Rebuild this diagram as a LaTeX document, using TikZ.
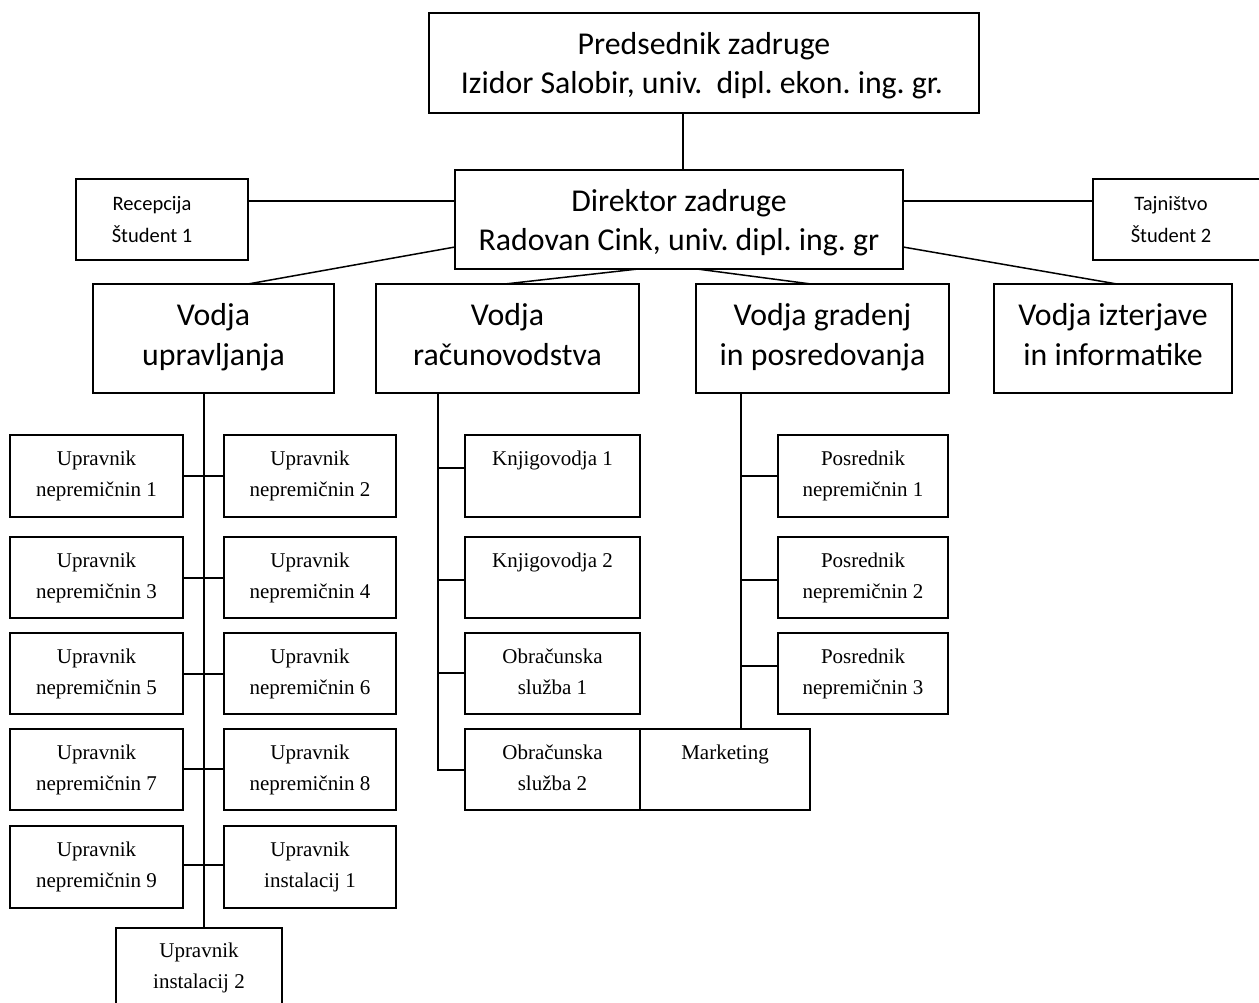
\documentclass[tikz,border=0pt]{standalone}
\usepackage{fontspec}
\setmainfont{Liberation Serif}
\newfontfamily\calibfont{Carlito}
\frenchspacing
\newcommand\orgbox[5]{\node[orgrect, minimum width={(#4-#2)*1pt}, minimum height={(#5-#3)*1pt}] (#1) at (#2,#3) {};}
\begin{document}
\begin{tikzpicture}[x=1pt,y=-1pt,
  orgrect/.style={draw, line width=1.5pt, inner sep=0pt, outer sep=0pt, anchor=north west},
  conn/.style={line width=1.5pt},
  bigtxt/.style={font=\calibfont\fontsize{31.8}{38}\selectfont, inner sep=0pt, anchor=base},
  smalltxt/.style={font=\calibfont\fontsize{20.5}{25}\selectfont, inner sep=0pt, anchor=base},
  tmstxt/.style={font=\fontsize{21}{25}\selectfont, inner sep=0pt, anchor=base}]
\useasboundingbox (0,0) rectangle (1259,1003);
\clip (0,0) rectangle (1259,1003);
% ---- top level boxes
\orgbox{pred}{429}{13}{979}{113}
\orgbox{dir}{455}{170}{903}{269}
\orgbox{rec}{76}{179}{248}{260}
\orgbox{taj}{1093}{179}{1290}{260}
\orgbox{vu}{93}{284}{334}{393}
\orgbox{vr}{376}{284}{639}{393}
\orgbox{vg}{696}{284}{949}{393}
\orgbox{vi}{994}{284}{1232}{393}
% ---- upravljanje
\orgbox{u1}{10}{435}{183}{517}
\orgbox{u2}{224}{435}{396}{517}
\orgbox{u3}{10}{537}{183}{618}
\orgbox{u4}{224}{537}{396}{618}
\orgbox{u5}{10}{633}{183}{714}
\orgbox{u6}{224}{633}{396}{714}
\orgbox{u7}{10}{729}{183}{810}
\orgbox{u8}{224}{729}{396}{810}
\orgbox{u9}{10}{826}{183}{908}
\orgbox{ui1}{224}{826}{396}{908}
\orgbox{ui2}{116}{928}{282}{1030}
% ---- racunovodstvo
\orgbox{k1}{465}{435}{640}{517}
\orgbox{k2}{465}{537}{640}{618}
\orgbox{o1}{465}{633}{640}{714}
\orgbox{o2}{465}{729}{640}{810}
\orgbox{mk}{640}{729}{810}{810}
% ---- posredovanje
\orgbox{p1}{778}{435}{948}{517}
\orgbox{p2}{778}{537}{948}{618}
\orgbox{p3}{778}{633}{948}{714}
% ---- texts
\node[bigtxt] (tpred1) at (704,55) {Predsednik zadruge};
\node[bigtxt] (tpred2) at (702,94) {Izidor Salobir, univ.\ \ dipl. ekon. ing. gr.};
\node[bigtxt] (tdir1) at (679,212) {Direktor zadruge};
\node[bigtxt] (tdir2) at (679,251) {Radovan Cink, univ. dipl. ing. gr};
\node[smalltxt] (trec1) at (152,211) {Recepcija};
\node[smalltxt] (trec2) at (152,243) {Študent 1};
\node[smalltxt] (ttaj1) at (1171,211) {Tajništvo};
\node[smalltxt] (ttaj2) at (1171,243) {Študent 2};
\node[bigtxt] (tvu1) at (213.5,326) {Vodja};
\node[bigtxt] (tvu2) at (213.5,365) {upravljanja};
\node[bigtxt] (tvr1) at (507.5,326) {Vodja};
\node[bigtxt] (tvr2) at (507.5,365) {računovodstva};
\node[bigtxt] (tvg1) at (822.5,326) {Vodja gradenj};
\node[bigtxt] (tvg2) at (822.5,365) {in posredovanja};
\node[bigtxt] (tvi1) at (1113,326) {Vodja izterjave};
\node[bigtxt] (tvi2) at (1113,365) {in informatike};
% upravniki
\node[tmstxt] (tu1a) at (96.5,465) {Upravnik};
\node[tmstxt] (tu1b) at (96.5,496) {nepremičnin 1};
\node[tmstxt] (tu2a) at (310,465) {Upravnik};
\node[tmstxt] (tu2b) at (310,496) {nepremičnin 2};
\node[tmstxt] (tu3a) at (96.5,567) {Upravnik};
\node[tmstxt] (tu3b) at (96.5,598) {nepremičnin 3};
\node[tmstxt] (tu4a) at (310,567) {Upravnik};
\node[tmstxt] (tu4b) at (310,598) {nepremičnin 4};
\node[tmstxt] (tu5a) at (96.5,663) {Upravnik};
\node[tmstxt] (tu5b) at (96.5,694) {nepremičnin 5};
\node[tmstxt] (tu6a) at (310,663) {Upravnik};
\node[tmstxt] (tu6b) at (310,694) {nepremičnin 6};
\node[tmstxt] (tu7a) at (96.5,759) {Upravnik};
\node[tmstxt] (tu7b) at (96.5,790) {nepremičnin 7};
\node[tmstxt] (tu8a) at (310,759) {Upravnik};
\node[tmstxt] (tu8b) at (310,790) {nepremičnin 8};
\node[tmstxt] (tu9a) at (96.5,856) {Upravnik};
\node[tmstxt] (tu9b) at (96.5,887) {nepremičnin 9};
\node[tmstxt] (tui1a) at (310,856) {Upravnik};
\node[tmstxt] (tui1b) at (310,887) {instalacij 1};
\node[tmstxt] (tui2a) at (199,957) {Upravnik};
\node[tmstxt] (tui2b) at (199,988) {instalacij 2};
% racunovodstvo
\node[tmstxt] (tk1) at (552.5,465) {Knjigovodja 1};
\node[tmstxt] (tk2) at (552.5,567) {Knjigovodja 2};
\node[tmstxt] (to1a) at (552.5,663) {Obračunska};
\node[tmstxt] (to1b) at (552.5,694) {služba 1};
\node[tmstxt] (to2a) at (552.5,759) {Obračunska};
\node[tmstxt] (to2b) at (552.5,790) {služba 2};
\node[tmstxt] (tmk) at (725,759) {Marketing};
% posredniki
\node[tmstxt] (tp1a) at (863,465) {Posrednik};
\node[tmstxt] (tp1b) at (863,496) {nepremičnin 1};
\node[tmstxt] (tp2a) at (863,567) {Posrednik};
\node[tmstxt] (tp2b) at (863,598) {nepremičnin 2};
\node[tmstxt] (tp3a) at (863,663) {Posrednik};
\node[tmstxt] (tp3b) at (863,694) {nepremičnin 3};
% ---- connectors
\coordinate (usp) at (204,0);
\coordinate (rsp) at (438,0);
\coordinate (gsp) at (741,0);
\draw[conn] (pred.south -| 683,0) -- (dir.north -| 683,0);
\draw[conn] (rec.east |- 0,201) -- (dir.west |- 0,201);
\draw[conn] (dir.east |- 0,201) -- (taj.west |- 0,201);
\draw[conn] (dir.west |- 0,247) -- (vu.north -| 248,0);
\draw[conn] (dir.south -| 638,0) -- (vr.north -| 505,0);
\draw[conn] (dir.south -| 697,0) -- (vg.north -| 811,0);
\draw[conn] (dir.east |- 0,247) -- (vi.north -| 1117,0);
% upravljanje spine and stubs
\draw[conn] (vu.south -| usp) -- (ui2.north -| usp);
\draw[conn] (u1.east |- 0,476) -- (u2.west |- 0,476);
\draw[conn] (u3.east |- 0,578) -- (u4.west |- 0,578);
\draw[conn] (u5.east |- 0,674) -- (u6.west |- 0,674);
\draw[conn] (u7.east |- 0,769) -- (u8.west |- 0,769);
\draw[conn] (u9.east |- 0,865) -- (ui1.west |- 0,865);
% racunovodstvo spine and stubs
\draw[conn] (vr.south -| rsp) |- (o2.west |- 0,770);
\draw[conn] (rsp |- 0,468) -- (k1.west |- 0,468);
\draw[conn] (rsp |- 0,580) -- (k2.west |- 0,580);
\draw[conn] (rsp |- 0,673) -- (o1.west |- 0,673);
% posredovanje spine and stubs
\draw[conn] (vg.south -| gsp) -- (mk.north -| gsp);
\draw[conn] (gsp |- 0,476) -- (p1.west |- 0,476);
\draw[conn] (gsp |- 0,580) -- (p2.west |- 0,580);
\draw[conn] (gsp |- 0,666) -- (p3.west |- 0,666);
\end{tikzpicture}
\end{document}
